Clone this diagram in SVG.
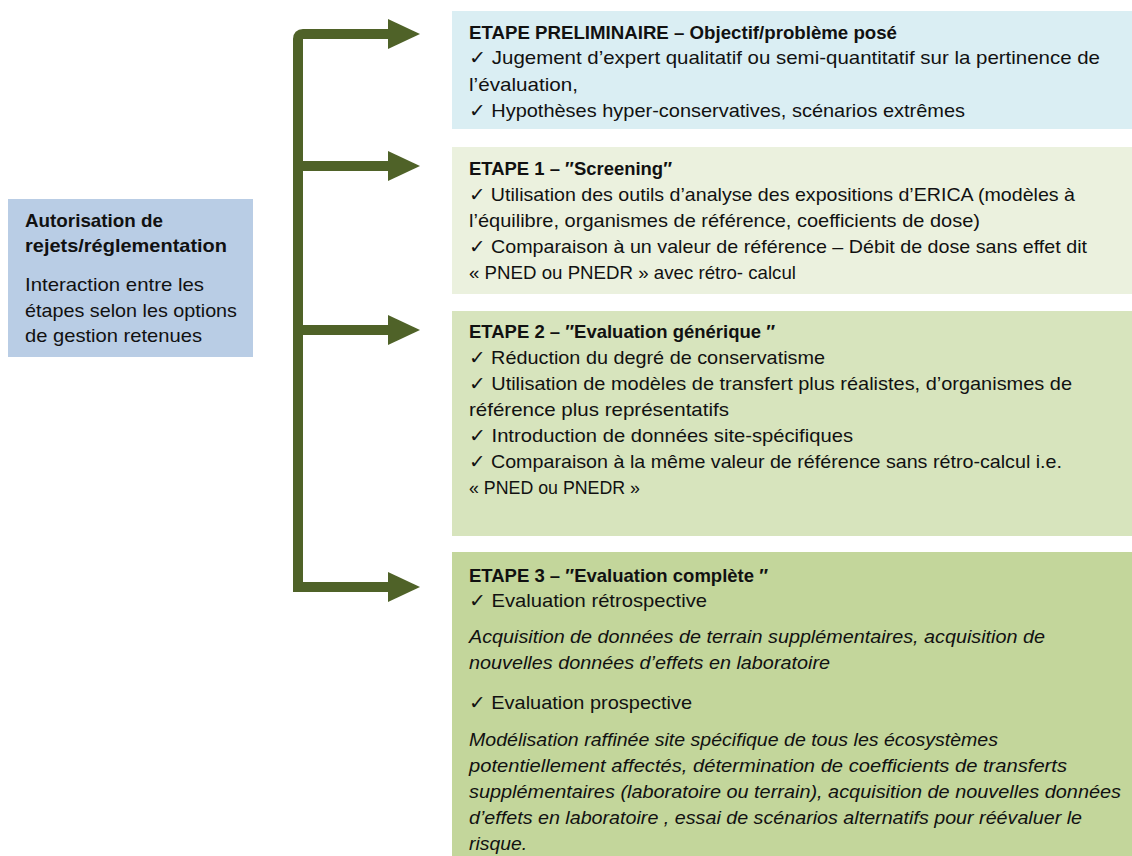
<svg xmlns="http://www.w3.org/2000/svg" width="1132" height="856" viewBox="0 0 1132 856">
<style>
text{font-family:"Liberation Sans","DejaVu Sans",sans-serif;font-size:19px;fill:#111}
.b{font-weight:bold}
.i{font-style:italic}
.conn{fill:none;stroke:#4f6228;stroke-width:10}
</style>
<defs>
<marker id="ah" viewBox="0 0 32 30" refX="0" refY="15" markerWidth="32" markerHeight="30" markerUnits="userSpaceOnUse" orient="auto">
<path d="M0,0 L32,15 L0,30 Z" fill="#4f6228"/>
</marker>
</defs>
<rect width="1132" height="856" fill="#fff"/>
<g id="connectors">
<path class="conn" d="M298,592 V39 Q298,34 303,34 H388" marker-end="url(#ah)"/>
<path class="conn" d="M298,166 H388" marker-end="url(#ah)"/>
<path class="conn" d="M298,330 H388" marker-end="url(#ah)"/>
<path class="conn" d="M293,587 H388" marker-end="url(#ah)"/>
</g>
<g id="node-left">
<rect x="8" y="199" width="245" height="158" fill="#b9cde5"/>
<text class="b" x="25" y="227" textLength="138" lengthAdjust="spacingAndGlyphs">Autorisation de</text>
<text class="b" x="25" y="252" textLength="202" lengthAdjust="spacingAndGlyphs">rejets/réglementation</text>
<text x="25" y="291" textLength="179" lengthAdjust="spacingAndGlyphs">Interaction entre les</text>
<text x="25" y="317" textLength="212" lengthAdjust="spacingAndGlyphs">étapes selon les options</text>
<text x="25" y="342" textLength="177" lengthAdjust="spacingAndGlyphs">de gestion retenues</text>
</g>
<g id="node-prelim">
<rect x="452" y="11" width="680" height="118" fill="#daeef3"/>
<text class="b" x="469" y="39" textLength="428" lengthAdjust="spacingAndGlyphs">ETAPE PRELIMINAIRE – Objectif/problème posé</text>
<text x="469" y="64" textLength="631" lengthAdjust="spacingAndGlyphs">✓  Jugement d’expert qualitatif ou semi-quantitatif sur la pertinence de</text>
<text x="469" y="91" textLength="109" lengthAdjust="spacingAndGlyphs">l’évaluation,</text>
<text x="469" y="117" textLength="496" lengthAdjust="spacingAndGlyphs">✓  Hypothèses hyper-conservatives, scénarios extrêmes</text>
</g>
<g id="node-etape1">
<rect x="452" y="147" width="680" height="147" fill="#ebf1de"/>
<text class="b" x="469" y="175" textLength="203" lengthAdjust="spacingAndGlyphs">ETAPE 1 – ″Screening″</text>
<text x="469" y="201" textLength="606" lengthAdjust="spacingAndGlyphs">✓ Utilisation des outils d’analyse des expositions d’ERICA (modèles à</text>
<text x="469" y="227" textLength="511" lengthAdjust="spacingAndGlyphs">l’équilibre, organismes de référence, coefficients de dose)</text>
<text x="469" y="253" textLength="618" lengthAdjust="spacingAndGlyphs">✓ Comparaison à un valeur de référence – Débit de dose sans effet dit</text>
<text x="469" y="279" textLength="327" lengthAdjust="spacingAndGlyphs">« PNED ou PNEDR » avec rétro- calcul</text>
</g>
<g id="node-etape2">
<rect x="452" y="311" width="680" height="225" fill="#d7e4bd"/>
<text class="b" x="469" y="338" textLength="306" lengthAdjust="spacingAndGlyphs">ETAPE 2 – ″Evaluation générique ″</text>
<text x="469" y="364" textLength="356" lengthAdjust="spacingAndGlyphs">✓ Réduction du degré de conservatisme</text>
<text x="469" y="390" textLength="603" lengthAdjust="spacingAndGlyphs">✓ Utilisation de modèles de transfert plus réalistes, d’organismes de</text>
<text x="469" y="416" textLength="260" lengthAdjust="spacingAndGlyphs">référence plus représentatifs</text>
<text x="469" y="442" textLength="384" lengthAdjust="spacingAndGlyphs">✓ Introduction de données site-spécifiques</text>
<text x="469" y="468" textLength="593" lengthAdjust="spacingAndGlyphs">✓ Comparaison à la même valeur de référence sans rétro-calcul i.e.</text>
<text x="469" y="494" textLength="171" lengthAdjust="spacingAndGlyphs">« PNED ou PNEDR »</text>
</g>
<g id="node-etape3">
<rect x="452" y="552" width="680" height="304" fill="#c3d69b"/>
<text class="b" x="469" y="582" textLength="299" lengthAdjust="spacingAndGlyphs">ETAPE 3 – ″Evaluation complète ″</text>
<text x="469" y="607" textLength="238" lengthAdjust="spacingAndGlyphs">✓ Evaluation rétrospective</text>
<text class="i" x="469" y="643" textLength="576" lengthAdjust="spacingAndGlyphs">Acquisition de données de terrain supplémentaires, acquisition de</text>
<text class="i" x="469" y="669" textLength="361" lengthAdjust="spacingAndGlyphs">nouvelles données d’effets en laboratoire</text>
<text x="469" y="709" textLength="223" lengthAdjust="spacingAndGlyphs">✓ Evaluation prospective</text>
<text class="i" x="469" y="746" textLength="529" lengthAdjust="spacingAndGlyphs">Modélisation raffinée site spécifique de tous les écosystèmes</text>
<text class="i" x="469" y="772" textLength="598" lengthAdjust="spacingAndGlyphs">potentiellement affectés, détermination de coefficients de transferts</text>
<text class="i" x="469" y="798" textLength="652" lengthAdjust="spacingAndGlyphs">supplémentaires (laboratoire ou terrain), acquisition de nouvelles données</text>
<text class="i" x="469" y="824" textLength="613" lengthAdjust="spacingAndGlyphs">d’effets en laboratoire , essai de scénarios alternatifs pour réévaluer le</text>
<text class="i" x="469" y="850" textLength="58" lengthAdjust="spacingAndGlyphs">risque.</text>
</g>
</svg>
